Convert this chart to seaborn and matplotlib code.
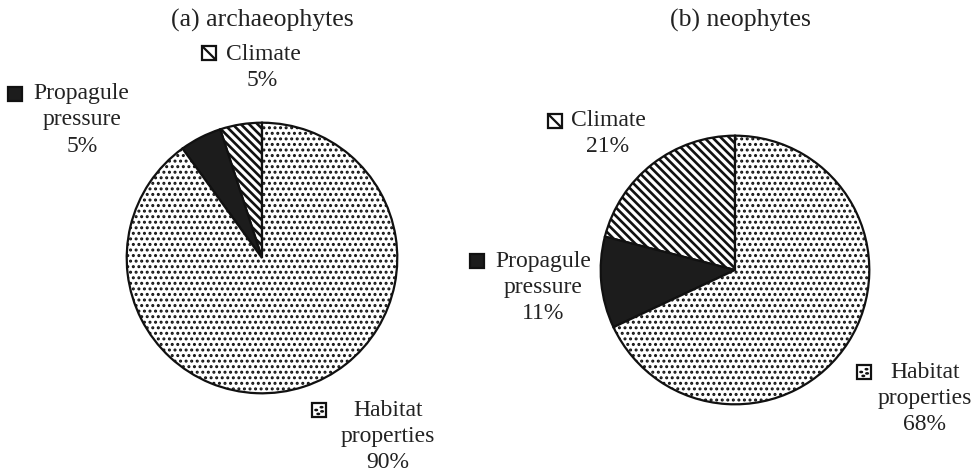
import matplotlib
matplotlib.use("Agg")
import matplotlib.pyplot as plt
from matplotlib.patches import Rectangle, Circle
from matplotlib.lines import Line2D
import seaborn as sns

# ---- data ----
titles = ["(a) archaeophytes", "(b) neophytes"]
categories = ["Climate", "Propagule pressure", "Habitat properties"]
archaeophytes = [5, 5, 90]
neophytes = [21, 11, 68]
label_lines = [["Climate"], ["Propagule", "pressure"], ["Habitat", "properties"]]

sns.set_theme(style="white")
plt.rcParams["font.family"] = ["Liberation Serif", "DejaVu Serif"]
plt.rcParams["hatch.linewidth"] = 1.5

W, H = 978, 473
fig = plt.figure(figsize=(W / 100, H / 100), dpi=100)
fig.patch.set_facecolor("white")

faces = ["white", "#1c1c1c", "white"]
hatches = ["\\\\\\\\", None, "..."]
FS = 17
TFS = 18.5
TXT = "#222222"
EDGE = "#111111"


def fx(x):
    return x / W


def fy(y):
    return 1 - y / H


def draw_pie(values, cx, cy, r, title, tx):
    ax = fig.add_axes([fx(cx - r), fy(cy + r), 2 * r / W, 2 * r / H])
    wedges, _ = ax.pie(values, startangle=90, counterclock=True,
                       colors=faces, radius=1.0,
                       wedgeprops=dict(edgecolor=EDGE, linewidth=1.6))
    for w, h in zip(wedges, hatches):
        if h:
            w.set_hatch(h)
            try:
                w.set_hatch_linewidth(1.9 if "\\" in h else 1.4)
            except Exception:
                pass
    ax.set_xlim(-1.02, 1.02)
    ax.set_ylim(-1.02, 1.02)
    ax.set_aspect("equal")
    ax.axis("off")
    fig.text(fx(tx), fy(20), title, ha="center", va="center", fontsize=TFS, color=TXT)


def marker(x, y, idx):
    s = 14
    fig.patches.append(Rectangle((fx(x), fy(y + s)), s / W, s / H, transform=fig.transFigure,
                                 facecolor=faces[idx], edgecolor=EDGE, linewidth=1.6))
    if idx == 0:
        fig.lines.append(Line2D([fx(x), fx(x + s)], [fy(y), fy(y + s)],
                                transform=fig.transFigure, color=EDGE, linewidth=1.6))
    elif idx == 2:
        for dx, dy in [(0.68, 0.3), (0.3, 0.5), (0.72, 0.6), (0.45, 0.78)]:
            fig.patches.append(Circle((fx(x + dx * s), fy(y + dy * s)), 1.3 / W,
                                      transform=fig.transFigure, color=EDGE))


def label(idx, value, sq_x, sq_y, text_x, first_y, center_x):
    marker(sq_x, sq_y, idx)
    lines = label_lines[idx]
    fig.text(fx(text_x), fy(first_y), lines[0], ha="left", va="center", fontsize=FS, color=TXT)
    y = first_y
    for ln in lines[1:]:
        y += 26
        fig.text(fx(center_x), fy(y), ln, ha="center", va="center", fontsize=FS, color=TXT)
    y += 26
    fig.text(fx(center_x), fy(y), f"{value}%", ha="center", va="center", fontsize=FS, color=TXT)


# left pie
draw_pie(archaeophytes, 262, 258, 138, titles[0], 262)
label(0, archaeophytes[0], 202, 46, 226, 54, 262)
label(1, archaeophytes[1], 8, 87, 33, 94, 82)
label(2, archaeophytes[2], 312, 403, 353, 410, 388)

# right pie
draw_pie(neophytes, 735, 270, 137, titles[1], 740)
label(0, neophytes[0], 548, 114, 571, 121, 608)
label(1, neophytes[1], 470, 254, 495, 261, 543)
label(2, neophytes[2], 857, 365, 890, 372, 925)

fig.savefig("out.png", dpi=100, facecolor="white")
